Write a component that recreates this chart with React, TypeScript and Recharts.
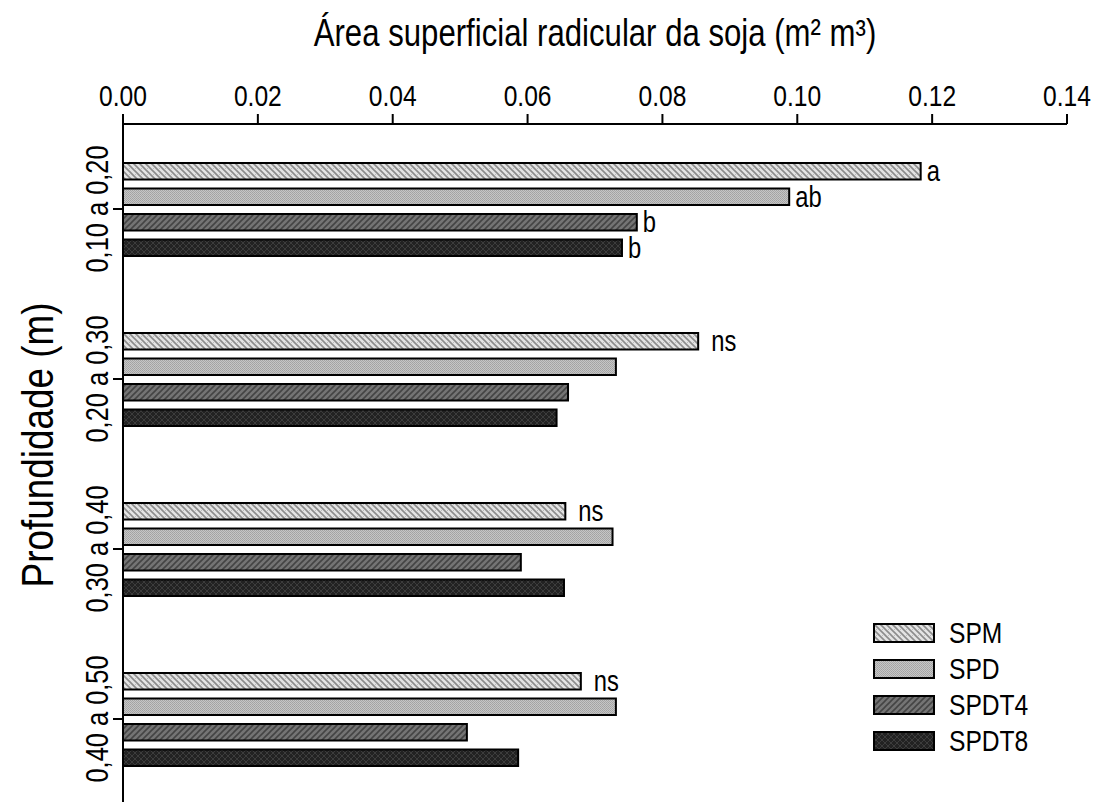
import React from 'react';
import { BarChart, Bar, XAxis, YAxis, LabelList, Label } from 'recharts';

// Depth layers (categories, top to bottom)
const depths = ['0,10 a 0,20', '0,20 a 0,30', '0,30 a 0,40', '0,40 a 0,50'];

// Root surface area per management system (m² m³)
const spm = [0.1183, 0.0853, 0.0656, 0.0679];
const spd = [0.0988, 0.0731, 0.0726, 0.0731];
const spdt4 = [0.0762, 0.066, 0.059, 0.051];
const spdt8 = [0.074, 0.0643, 0.0654, 0.0586];

// Mean-comparison letters shown at the bar ends
const spmLetters = ['a', 'ns', 'ns', 'ns'];
const spdLetters = ['ab', '', '', ''];
const spdt4Letters = ['b', '', '', ''];
const spdt8Letters = ['b', '', '', ''];

const xTicks = [0, 0.02, 0.04, 0.06, 0.08, 0.1, 0.12, 0.14];

const seriesNames = ['SPM', 'SPD', 'SPDT4', 'SPDT8'];
const seriesValues = [spm, spd, spdt4, spdt8];
const seriesLetters = [spmLetters, spdLetters, spdt4Letters, spdt8Letters];
const seriesFills = ['url(#pSPM)', 'url(#pSPD)', 'url(#pSPDT4)', 'url(#pSPDT8)'];

const data = depths.map((depth, i) => {
  const row: Record<string, string | number> = { depth };
  seriesNames.forEach((name, s) => {
    row[name] = seriesValues[s][i];
    row[name + '_lbl'] = seriesLetters[s][i];
  });
  return row;
});

const FONT = '"Liberation Sans", Arial, Helvetica, sans-serif';
// Horizontal squeeze giving a condensed (narrow) sans face
const NARROW = 0.82;

type NarrowProps = {
  x: number;
  y: number;
  angle?: number;
  size: number;
  anchor?: 'start' | 'middle' | 'end';
  baseline?: 'central' | 'alphabetic';
  children: React.ReactNode;
};

const NarrowText = ({ x, y, angle = 0, size, anchor = 'start', baseline = 'alphabetic', children }: NarrowProps) => (
  <text
    x={0}
    y={0}
    transform={`translate(${x}, ${y}) rotate(${angle}) scale(${NARROW}, 1)`}
    textAnchor={anchor}
    dominantBaseline={baseline}
    fontSize={size}
    fontFamily={FONT}
    fill="#000"
  >
    {children}
  </text>
);

const Patterns = () => (
  <svg width={0} height={0} style={{ position: 'absolute' }}>
    <defs>
      <pattern id="pSPM" width={6} height={6} patternUnits="userSpaceOnUse">
        <rect width={6} height={6} fill="#e4e4e4" />
        <path d="M-1,-1 L7,7 M-1,5 L1,7 M5,-1 L7,1" stroke="#8c8c8c" strokeWidth={1.6} />
        <rect x={3} y={0} width={1} height={1} fill="#bcbcbc" />
      </pattern>
      <pattern id="pSPD" width={2} height={2} patternUnits="userSpaceOnUse">
        <rect width={2} height={2} fill="#c6c6c6" />
        <rect x={0} y={0} width={1} height={1} fill="#a2a2a2" />
        <rect x={1} y={1} width={1} height={1} fill="#a8a8a8" />
      </pattern>
      <pattern id="pSPDT4" width={6} height={6} patternUnits="userSpaceOnUse">
        <rect width={6} height={6} fill="#747474" />
        <path d="M-1,7 L7,-1 M-1,1 L1,-1 M5,7 L7,5" stroke="#444444" strokeWidth={1.6} />
      </pattern>
      <pattern id="pSPDT8" width={6} height={6} patternUnits="userSpaceOnUse">
        <rect width={6} height={6} fill="#222222" />
        <path d="M-1,-1 L7,7 M-1,7 L7,-1" stroke="#3c3c3c" strokeWidth={1} />
      </pattern>
    </defs>
  </svg>
);

const BarLetter = (props: any) => {
  const { x, y, width, height, value } = props;
  if (!value) return null;
  const gap = value === 'ns' ? 13 : 6;
  return (
    <NarrowText x={x + width + gap} y={y + height / 2} size={29} baseline="central">
      {value}
    </NarrowText>
  );
};

const ValueTick = (props: any) => {
  const { x, y, payload } = props;
  return (
    <NarrowText x={x} y={y} size={30} anchor="middle">
      {Number(payload.value).toFixed(2)}
    </NarrowText>
  );
};

const DepthTick = (props: any) => {
  const { x, y, payload } = props;
  return (
    <NarrowText x={x - 14} y={y} angle={-90} size={31} anchor="middle" baseline="central">
      {payload.value}
    </NarrowText>
  );
};

const TopTitle = (props: any) => {
  const { viewBox } = props;
  return (
    <NarrowText
      x={viewBox.x + viewBox.width / 2}
      y={viewBox.y + 33}
      size={38}
      anchor="middle"
      baseline="central"
    >
      Área superficial radicular da soja (m² m³)
    </NarrowText>
  );
};

const SideTitle = (props: any) => {
  const { viewBox } = props;
  return (
    <NarrowText
      x={viewBox.x + 38}
      y={viewBox.y + 321}
      angle={-90}
      size={45}
      anchor="middle"
      baseline="central"
    >
      Profundidade (m)
    </NarrowText>
  );
};

export default function App() {
  return (
    <div
      style={{
        position: 'fixed',
        left: 0,
        top: 0,
        width: 1103,
        height: 802,
        overflow: 'hidden',
        background: '#fff',
        fontFamily: FONT,
      }}
    >
      <Patterns />
      <BarChart
        width={1103}
        height={804}
        data={data}
        layout="vertical"
        margin={{ top: 0, right: 36, bottom: 0, left: 0 }}
        barSize={16.5}
        barGap={9}
      >
        <XAxis
          type="number"
          orientation="top"
          domain={[0, 0.14]}
          ticks={xTicks}
          height={124}
          tickSize={10}
          tickMargin={8}
          axisLine={{ stroke: '#000', strokeWidth: 2 }}
          tickLine={{ stroke: '#000', strokeWidth: 2 }}
          tick={<ValueTick />}
          interval={0}
        >
          <Label content={<TopTitle />} position="center" />
        </XAxis>
        <YAxis
          type="category"
          dataKey="depth"
          width={123}
          tickSize={10}
          axisLine={{ stroke: '#000', strokeWidth: 2 }}
          tickLine={{ stroke: '#000', strokeWidth: 2 }}
          tick={<DepthTick />}
          interval={0}
        >
          <Label content={<SideTitle />} position="center" />
        </YAxis>
        {seriesNames.map((name, s) => (
          <Bar
            key={name}
            dataKey={name}
            name={name}
            fill={seriesFills[s]}
            stroke="#000"
            strokeWidth={2}
            isAnimationActive={false}
          >
            <LabelList dataKey={name + '_lbl'} content={<BarLetter />} />
          </Bar>
        ))}
      </BarChart>
      <div
        style={{
          position: 'absolute',
          left: 873,
          top: 623,
        }}
      >
        {seriesNames.map((name, s) => (
          <div
            key={name}
            style={{ display: 'flex', alignItems: 'center', height: 20, marginBottom: 16 }}
          >
            <svg width={62} height={20} style={{ display: 'block' }}>
              <rect x={1} y={1} width={60} height={18} fill={seriesFills[s]} stroke="#000" strokeWidth={2} />
            </svg>
            <span
              style={{
                marginLeft: 14,
                fontSize: 30,
                lineHeight: '20px',
                color: '#000',
                display: 'inline-block',
                transform: `scaleX(${NARROW})`,
                transformOrigin: 'left center',
              }}
            >
              {name}
            </span>
          </div>
        ))}
      </div>
    </div>
  );
}
